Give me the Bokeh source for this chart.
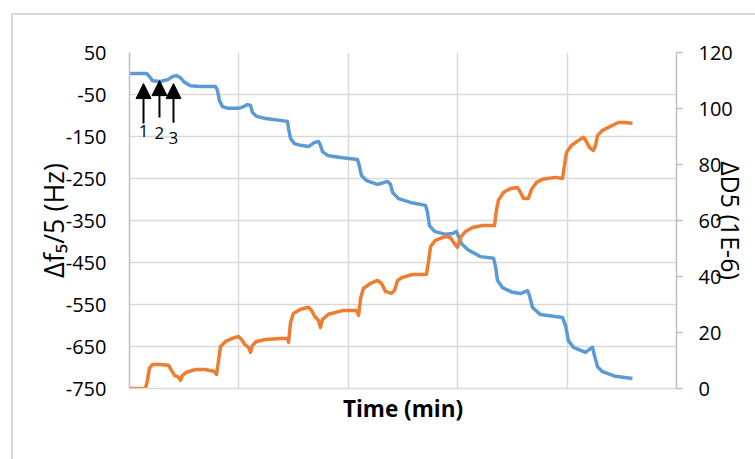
from bokeh.plotting import figure
from bokeh.models import Range1d, LinearAxis, FixedTicker, Arrow, NormalHead, InlineStyleSheet
from bokeh.core.properties import value
from bokeh.embed import file_html
from bokeh.resources import INLINE

# Frequency shift (left axis, Hz)
time_f = [0, 7.8, 9.1, 10.5, 14.2, 17.8, 19.7, 21.5, 23.3, 25.1, 27.9, 32.4, 39.3, 40.2, 41.1, 42.5,
          45.2, 49.8, 52.1, 53.9, 55.3, 56.2, 58.0, 62.2, 72.2, 72.7, 73.6, 75.4, 78.2, 81.8, 84.6,
          86.4, 87.3, 88.2, 90.5, 96.4, 104.2, 105.1, 106.0, 108.3, 113.3, 116.1, 117.9, 119.3,
          120.2, 122.9, 128.4, 135.3, 136.2, 137.1, 139.4, 144.4, 147.7, 149.4, 150.4, 151.7,
          154.5, 160.4, 166.4, 167.3, 168.2, 170.5, 175.0, 178.7, 181.9, 182.8, 184.2, 187.8,
          197.9, 199.3, 200.6, 202.9, 208.4, 210.7, 211.6, 212.5, 213.9, 216.2, 222.1, 229.9]
freq = [0, 0, -7, -17, -19, -14, -7, -5, -10, -21, -29, -31, -31, -40, -64, -79,
        -83, -83, -79, -74, -76, -93, -102, -107, -114, -131, -155, -167, -171, -174, -164,
        -162, -171, -186, -195, -200, -205, -221, -243, -255, -264, -260, -257, -264,
        -283, -298, -307, -314, -331, -362, -376, -383, -381, -376, -388, -405,
        -419, -436, -440, -460, -493, -510, -521, -524, -517, -529, -557, -574,
        -581, -600, -636, -652, -664, -655, -652, -671, -698, -710, -721, -726]

# Dissipation shift (right axis, 1E-6)
time_d = [0, 7.3, 8.2, 9.1, 10.5, 14.2, 17.8, 19.2, 20.6, 22.4, 23.3, 24.2, 26.0, 30.2, 34.7, 38.8,
          39.8, 40.7, 41.6, 43.9, 47.1, 49.8, 51.2, 52.6, 54.4, 55.3, 56.2, 58.0, 62.2, 69.0, 72.2,
          72.7, 73.6, 74.9, 78.2, 81.8, 83.2, 84.6, 86.4, 87.3, 88.2, 90.9, 97.8, 103.7, 104.7,
          105.6, 106.9, 110.1, 113.3, 115.2, 117.0, 119.7, 121.1, 122.5, 124.8, 129.3, 135.7,
          136.6, 137.6, 139.8, 144.4, 146.7, 148.1, 149.9, 151.3, 153.6, 156.8, 161.3, 166.8,
          167.7, 168.6, 170.9, 174.1, 177.3, 178.7, 180.1, 182.3, 183.7, 186.0, 188.7, 194.7,
          197.9, 198.8, 199.7, 202.0, 205.2, 207.5, 208.8, 210.2, 212.0, 213.0, 213.9, 216.2,
          219.8, 223.5, 226.2, 229.9]
diss = [0, 0, 2.9, 7.2, 8.6, 8.6, 8.3, 6.5, 4.7, 4.0, 2.9, 4.7, 5.8, 6.8, 6.8, 6.1,
        5.0, 10.0, 15.0, 16.8, 17.9, 18.6, 17.5, 15.8, 14.7, 12.9, 15.4, 16.8, 17.5, 17.9, 17.9,
        16.5, 23.6, 26.8, 28.3, 29.0, 27.9, 25.8, 24.3, 21.8, 24.7, 26.5, 27.9, 27.9, 26.1,
        32.2, 35.7, 37.5, 38.6, 37.5, 34.7, 34.0, 35.0, 38.6, 39.7, 40.7, 40.7,
        45.0, 50.7, 52.9, 54.3, 53.9, 52.2, 50.4, 54.0, 56.1, 57.5, 58.2, 58.2,
        63.6, 67.2, 70.0, 71.4, 71.8, 70.0, 67.9, 67.9, 71.1, 73.6, 74.7, 75.4,
        75.0, 79.7, 84.3, 86.8, 88.6, 89.7, 88.2, 86.1, 85.0, 86.8, 90.4, 92.2,
        93.6, 95.0, 95.0, 94.7]

x_ticks = [0, 50, 100, 150, 200, 250]
left_ticks = [-750, -650, -550, -450, -350, -250, -150, -50, 50]
right_ticks = [0, 20, 40, 60, 80, 100, 120]

arrow_t = [6.4, 13.7, 20.1]
arrow_tip = [-24, -17, -24]
arrow_tail = [-119, -105, -117]
arrow_labels = ["1", "2", "3"]
arrow_label_y = [-136, -141, -153]

FONT = "Open Sans"
GRID = "#d9d9d9"
AXIS = "#bfbfbf"

p = figure(width=755, height=459, output_backend="svg", toolbar_location=None,
           x_range=Range1d(0, 250), y_range=Range1d(-750, 50),
           min_border_left=129, min_border_right=79, min_border_top=52, min_border_bottom=71)
p.outline_line_color = None
p.background_fill_color = "white"
p.border_fill_color = "white"
p.extra_y_ranges = {"right": Range1d(0, 120)}

# light chart-area frame (decoration only)
p.stylesheets = [InlineStyleSheet(css=(
    ":host::after { content: ''; position: absolute; left: 11px; top: 13px; right: 0; bottom: 0;"
    " border-left: 2px solid #d9d9d9; border-top: 2px solid #d9d9d9; pointer-events: none; }"))]

# grids
p.xgrid.ticker = FixedTicker(ticks=x_ticks)
p.ygrid.ticker = FixedTicker(ticks=left_ticks)
for g in (p.xgrid, p.ygrid):
    g.grid_line_color = GRID
    g.grid_line_width = 1.5

# x axis
xa = p.xaxis[0]
xa.ticker = FixedTicker(ticks=x_ticks)
xa.major_label_overrides = {t: "" for t in x_ticks}
xa.major_tick_in = 0
xa.major_tick_out = 0
xa.minor_tick_line_color = None
xa.axis_line_color = GRID
xa.axis_line_width = 1.5
xa.major_label_standoff = 0
xa.axis_label = "Time (min)"
xa.axis_label_text_font = FONT
xa.axis_label_text_font_style = "bold"
xa.axis_label_text_font_size = "22.5px"
xa.axis_label_text_color = "black"
xa.axis_label_standoff = 4

# left axis
ya = p.yaxis[0]
ya.ticker = FixedTicker(ticks=left_ticks)
ya.major_label_overrides = {t: str(t) for t in left_ticks}
ya.major_tick_in = 0
ya.major_tick_out = 0
ya.minor_tick_line_color = None
ya.axis_line_color = AXIS
ya.axis_line_width = 1.5
ya.major_label_standoff = 23
ya.major_label_text_font = FONT
ya.major_label_text_font_size = "20px"
ya.major_label_text_color = "black"
ya.axis_label = "Δf₅/5 (Hz)"
ya.axis_label_text_font = FONT
ya.axis_label_text_font_style = "normal"
ya.axis_label_text_font_size = "27px"
ya.axis_label_text_color = "black"
ya.axis_label_standoff = -9

# right axis
ra = LinearAxis(y_range_name="right", ticker=FixedTicker(ticks=right_ticks))
ra.major_tick_in = 0
ra.major_tick_out = 6
ra.major_tick_line_color = AXIS
ra.major_tick_line_width = 1.5
ra.minor_tick_line_color = None
ra.axis_line_color = AXIS
ra.axis_line_width = 1.5
ra.major_label_standoff = 16
ra.major_label_text_font = FONT
ra.major_label_text_font_size = "20px"
ra.major_label_text_color = "black"
ra.axis_label = "ΔD5 (1E-6)"
ra.axis_label_text_font = FONT
ra.axis_label_text_font_style = "normal"
ra.axis_label_text_font_size = "25px"
ra.axis_label_text_color = "black"
ra.axis_label_standoff = -22
p.add_layout(ra, "right")

# data lines
p.line(time_f, freq, line_color="#5b9bd5", line_width=3.5, line_join="round")
p.line(time_d, diss, line_color="#ed7d31", line_width=3.5, line_join="round", y_range_name="right")

# arrows marking injections
for t, tip, tail in zip(arrow_t, arrow_tip, arrow_tail):
    p.add_layout(Arrow(x_start=t, y_start=tail, x_end=t, y_end=tip, line_color="black",
                       line_width=2,
                       end=NormalHead(size=15, fill_color="black", line_color="black", line_width=1)))
p.text(x=arrow_t, y=arrow_label_y, text=arrow_labels, text_font=value(FONT),
       text_font_size="17px", text_align="center", text_baseline="middle", text_color="black")

open("out.html", "w").write(file_html(p, INLINE))
